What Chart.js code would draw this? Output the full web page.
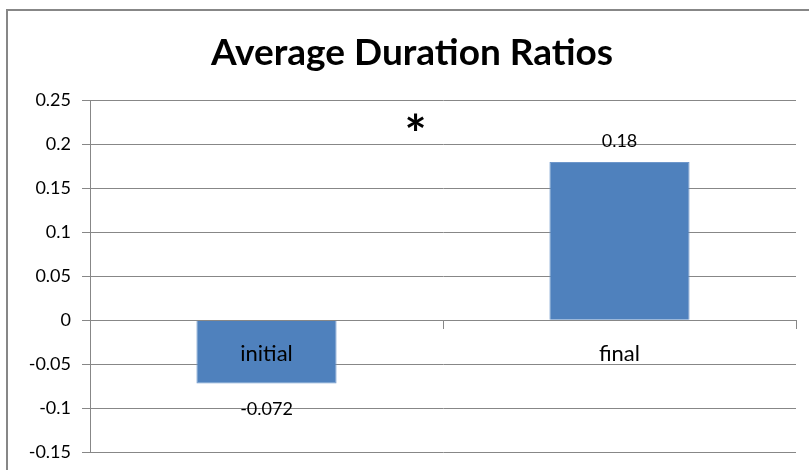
<!DOCTYPE html>
<html>
<head>
<meta charset="utf-8">
<script src="https://cdn.jsdelivr.net/npm/chart.js@4"></script>
<style>
  html, body { margin: 0; padding: 0; background: #fff; overflow: hidden; }
  #wrap { position: relative; width: 809px; height: 470px; }
  #frame { position: absolute; left: 6px; top: 9px; width: 900px; height: 600px;
           border: 2px solid #878787; box-sizing: border-box; }
  canvas { position: absolute; left: 0; top: 0; }
</style>
</head>
<body>
<div id="wrap">
  <div id="frame"></div>
  <canvas id="c" width="809" height="470"></canvas>
</div>
<script>
// ---- data ----
const chartTitle = 'Average Duration Ratios';
const categories = ['initial', 'final'];
const ratioValues = [-0.072, 0.18];
const dataLabels = ['-0.072', '0.18'];
const yTickValues = [-0.15, -0.1, -0.05, 0, 0.05, 0.1, 0.15, 0.2, 0.25];
const yTickLabels = ['-0.15', '-0.1', '-0.05', '0', '0.05', '0.1', '0.15', '0.2', '0.25'];
const significanceMark = '*';

const GRID = '#878787';
const FONT = 'Lato, "Open Sans", sans-serif';

const valueLabelPlugin = {
  id: 'valueLabels',
  afterDatasetsDraw(chart) {
    const ctx = chart.ctx;
    const meta = chart.getDatasetMeta(0);
    ctx.save();
    ctx.font = '18px ' + FONT;
    ctx.fillStyle = '#000';
    ctx.textAlign = 'center';
    ctx.textBaseline = 'middle';
    meta.data.forEach((bar, i) => {
      const v = ratioValues[i];
      const y = v >= 0 ? bar.y - 21 : bar.y + 26;
      ctx.fillText(dataLabels[i], bar.x, y);
    });
    // significance marker between the groups
    const ys = chart.scales.y;
    const area = chart.chartArea;
    ctx.font = 'bold 52px ' + FONT;
    ctx.fillText(significanceMark, area.left + (area.right - area.left) * 0.461, ys.getPixelForValue(0.209));
    ctx.restore();
  }
};

new Chart(document.getElementById('c'), {
  type: 'bar',
  data: {
    labels: categories,
    datasets: [{
      data: ratioValues,
      backgroundColor: '#4F81BD',
      borderColor: '#6E97CB',
      borderWidth: 1,
      barPercentage: 0.397,
      categoryPercentage: 1.0
    }]
  },
  plugins: [valueLabelPlugin],
  options: {
    responsive: false,
    devicePixelRatio: 1,
    animation: false,
    events: [],
    layout: { padding: { top: 30, left: 28, right: 13, bottom: 18 } },
    plugins: {
      legend: { display: false },
      tooltip: { enabled: false },
      title: {
        display: true,
        text: chartTitle,
        color: '#000',
        font: { family: FONT, size: 37, weight: 'bold', lineHeight: 1.2 },
        padding: { top: 1, bottom: 25 }
      }
    },
    scales: {
      x: {
        position: { y: 0 },
        offset: true,
        afterFit(scale) { scale.paddingTop = 0; scale.paddingBottom = 0; },
        grid: { drawOnChartArea: false, drawTicks: true, tickLength: 8, color: GRID, offset: true },
        border: { display: true, color: GRID, width: 1, z: 1 },
        ticks: { color: '#000', font: { family: FONT, size: 22 }, padding: 13, z: 1 }
      },
      y: {
        min: -0.15,
        max: 0.25,
        afterBuildTicks(scale) { scale.ticks = yTickValues.map(v => ({ value: v })); },
        afterFit(scale) { scale.width = 62; scale.paddingTop = 0; scale.paddingBottom = 0; },
        grid: { color: GRID, lineWidth: 1, tickLength: 8 },
        border: { display: true, color: GRID, width: 1 },
        ticks: {
          color: '#000',
          font: { family: FONT, size: 18 },
          padding: 11,
          callback(value, index) { return yTickLabels[index]; }
        }
      }
    }
  }
});
</script>
</body>
</html>
